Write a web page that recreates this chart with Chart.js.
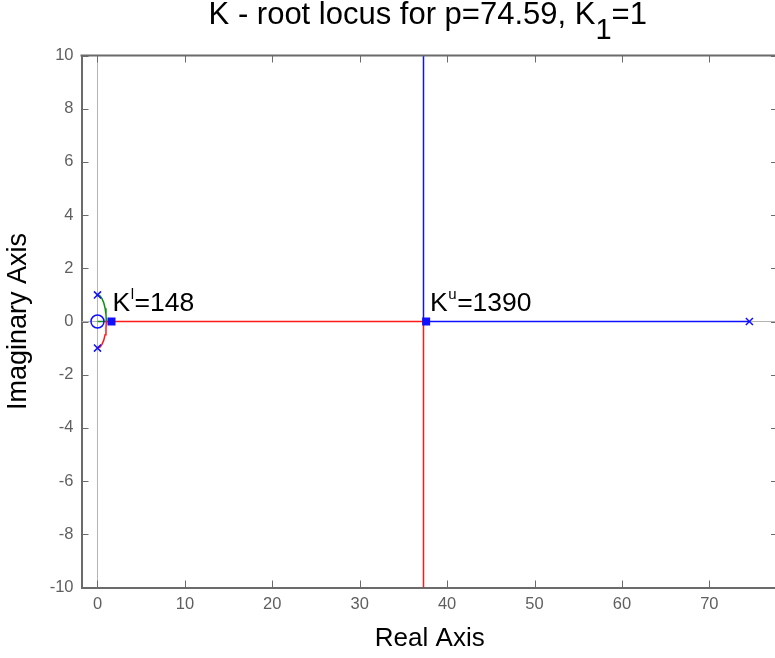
<!DOCTYPE html>
<html>
<head>
<meta charset="utf-8">
<script src="https://cdn.jsdelivr.net/npm/chart.js@4/dist/chart.umd.min.js"></script>
<style>
  html, body { margin: 0; padding: 0; overflow: hidden; background: #fff; width: 775px; height: 658px; }
  #wrap { width: 790px; height: 658px; position: relative; }
</style>
</head>
<body>
<div id="wrap"><canvas id="c" width="790" height="658"></canvas></div>
<script>
// ---- text ----
const titleMain = 'K - root locus for p=74.59, K';
const titleSub = '1';
const titleTail = '=1';
const xLabel = 'Real Axis';
const yLabel = 'Imaginary Axis';

// ---- axes ----
const xRange = [-1.83, 77.86];
const yRange = [-10, 10];
const xTicks = [0, 10, 20, 30, 40, 50, 60, 70];
const yTicks = [-10, -8, -6, -4, -2, 0, 2, 4, 6, 8, 10];

// ---- open-loop poles and zero ----
const poleRe = [0, 0, 74.59];
const poleIm = [1, -1, 0];
const zeroRe = [0];
const zeroIm = [0];

// ---- locus branches: real parts / imaginary parts ----
const upperRe = [0, 0.26, 0.5, 0.71, 0.87, 0.97, 1.01, 0];
const upperIm = [1, 0.97, 0.87, 0.71, 0.5, 0.26, 0, 0];
const lowerRe = [0, 0.26, 0.5, 0.71, 0.87, 0.97, 1.01, 37.3, 37.3];
const lowerIm = [-1, -0.97, -0.87, -0.71, -0.5, -0.26, 0, 0, -10];
const farRe = [74.59, 37.3, 37.3];
const farIm = [0, 0, 10];

// ---- marked gains ----
const gainRe = [1.6, 37.6];
const gainIm = [0, 0];
const gainTag = ['l', 'u'];
const gainValue = [148, 1390];

const FONT = 'Arial, "Liberation Sans", Helvetica, sans-serif';
const AXIS_COLOR = '#6b6b6b';
const TICK_TEXT = '#5f5f5f';
const BLUE = '#1010ff', RED = '#ff1a1a', GREEN = '#109010', ZERO_LINE = '#b4b4b4';

const pts = (re, im) => re.map((v, i) => ({ x: v, y: im[i] }));

// inward tick marks on all four sides, the closing top/right box lines,
// the gain annotations and the title
const decorations = {
  id: 'decorations',
  afterDraw(chart) {
    const { ctx, chartArea: a, scales: { x, y } } = chart;
    const len = 7;
    ctx.save();
    ctx.strokeStyle = AXIS_COLOR;
    ctx.lineWidth = 2;
    ctx.beginPath();
    ctx.moveTo(a.left - 1, a.top); ctx.lineTo(a.right, a.top);
    ctx.moveTo(a.right, a.top); ctx.lineTo(a.right, a.bottom);
    ctx.stroke();
    ctx.lineWidth = 1;
    ctx.beginPath();
    xTicks.forEach(v => {
      const px = Math.round(x.getPixelForValue(v)) + 0.5;
      ctx.moveTo(px, a.bottom); ctx.lineTo(px, a.bottom - len);
      ctx.moveTo(px, a.top); ctx.lineTo(px, a.top + len);
    });
    yTicks.forEach(v => {
      const py = Math.round(y.getPixelForValue(v)) + 0.5;
      ctx.moveTo(a.left, py); ctx.lineTo(a.left + len, py);
      ctx.moveTo(a.right, py); ctx.lineTo(a.right - len, py);
    });
    ctx.stroke();

    // gain labels: K with a superscript tag, then "=value"
    const dx = [1, 4];
    ctx.fillStyle = '#000';
    ctx.textBaseline = 'alphabetic';
    ctx.textAlign = 'left';
    gainRe.forEach((re, i) => {
      let px = x.getPixelForValue(re) + dx[i];
      const py = y.getPixelForValue(gainIm[i]) - 10.5;
      ctx.font = '26.5px ' + FONT;
      ctx.fillText('K', px, py);
      px += ctx.measureText('K').width + 0.5;
      ctx.font = '15px ' + FONT;
      ctx.fillText(gainTag[i], px, py - 12);
      px += ctx.measureText(gainTag[i]).width + 0.5;
      ctx.font = '26.5px ' + FONT;
      ctx.fillText('=' + gainValue[i], px, py);
    });

    // title with subscript
    const big = '31px ' + FONT, small = '29px ' + FONT;
    ctx.font = big;
    const w1 = ctx.measureText(titleMain).width;
    const w3 = ctx.measureText(titleTail).width;
    ctx.font = small;
    const w2 = ctx.measureText(titleSub).width;
    let tx = (a.left + a.right) / 2 - 2 - (w1 + w2 + w3) / 2;
    const ty = 24;
    ctx.font = big;
    ctx.fillText(titleMain, tx, ty);
    tx += w1;
    ctx.font = small;
    ctx.fillText(titleSub, tx, ty + 15);
    tx += w2;
    ctx.font = big;
    ctx.fillText(titleTail, tx, ty);
    ctx.restore();
  }
};

const lineSet = (data, color, width) => ({
  data, showLine: true, borderColor: color, borderWidth: width,
  pointRadius: 0, pointHoverRadius: 0, fill: false, tension: 0
});

new Chart(document.getElementById('c'), {
  type: 'scatter',
  data: {
    datasets: [
      { data: pts(gainRe, gainIm), pointStyle: 'rect', pointRadius: 5.7,
        backgroundColor: BLUE, borderColor: BLUE, borderWidth: 0 },
      { data: pts(poleRe, poleIm), pointStyle: 'crossRot', pointRadius: 5,
        borderColor: BLUE, borderWidth: 1.5 },
      { data: pts(zeroRe, zeroIm), pointStyle: 'circle', pointRadius: 6.5,
        backgroundColor: 'rgba(0,0,0,0)', borderColor: BLUE, borderWidth: 1.5 },
      lineSet(pts(farRe, farIm), BLUE, 1.5),
      lineSet(pts(lowerRe, lowerIm), RED, 1.5),
      lineSet(pts(upperRe, upperIm), GREEN, 1.5),
      lineSet([{ x: 0, y: yRange[0] }, { x: 0, y: yRange[1] }], ZERO_LINE, 1),
      lineSet([{ x: xRange[0], y: 0 }, { x: xRange[1], y: 0 }], ZERO_LINE, 1)
    ]
  },
  options: {
    responsive: false,
    animation: false,
    events: [],
    layout: { padding: { top: 55.5, right: 12, left: 0, bottom: 0 } },
    plugins: { legend: { display: false }, tooltip: { enabled: false }, title: { display: false } },
    scales: {
      x: {
        type: 'linear', min: xRange[0], max: xRange[1],
        afterBuildTicks: s => { s.ticks = xTicks.map(v => ({ value: v })); },
        afterFit: s => { s.height = 70.5; },
        grid: { drawOnChartArea: false, drawTicks: false },
        border: { display: true, color: AXIS_COLOR, width: 2 },
        ticks: { color: TICK_TEXT, font: { family: FONT, size: 16.5 }, padding: 7,
                 maxRotation: 0, autoSkip: false },
        title: { display: true, text: xLabel, color: '#000',
                 font: { family: FONT, size: 26 }, padding: { top: 0, bottom: 3.5 } }
      },
      y: {
        type: 'linear', min: yRange[0], max: yRange[1],
        afterBuildTicks: s => { s.ticks = yTicks.map(v => ({ value: v })); },
        afterFit: s => { s.width = 81.5; },
        grid: { drawOnChartArea: false, drawTicks: false },
        border: { display: true, color: AXIS_COLOR, width: 2 },
        ticks: { color: TICK_TEXT, font: { family: FONT, size: 16.5 }, padding: 8, autoSkip: false },
        title: { display: true, text: yLabel, color: '#000',
                 font: { family: FONT, size: 27 }, padding: { top: 2.4, bottom: 0 } }
      }
    }
  },
  plugins: [decorations]
});
</script>
</body>
</html>
